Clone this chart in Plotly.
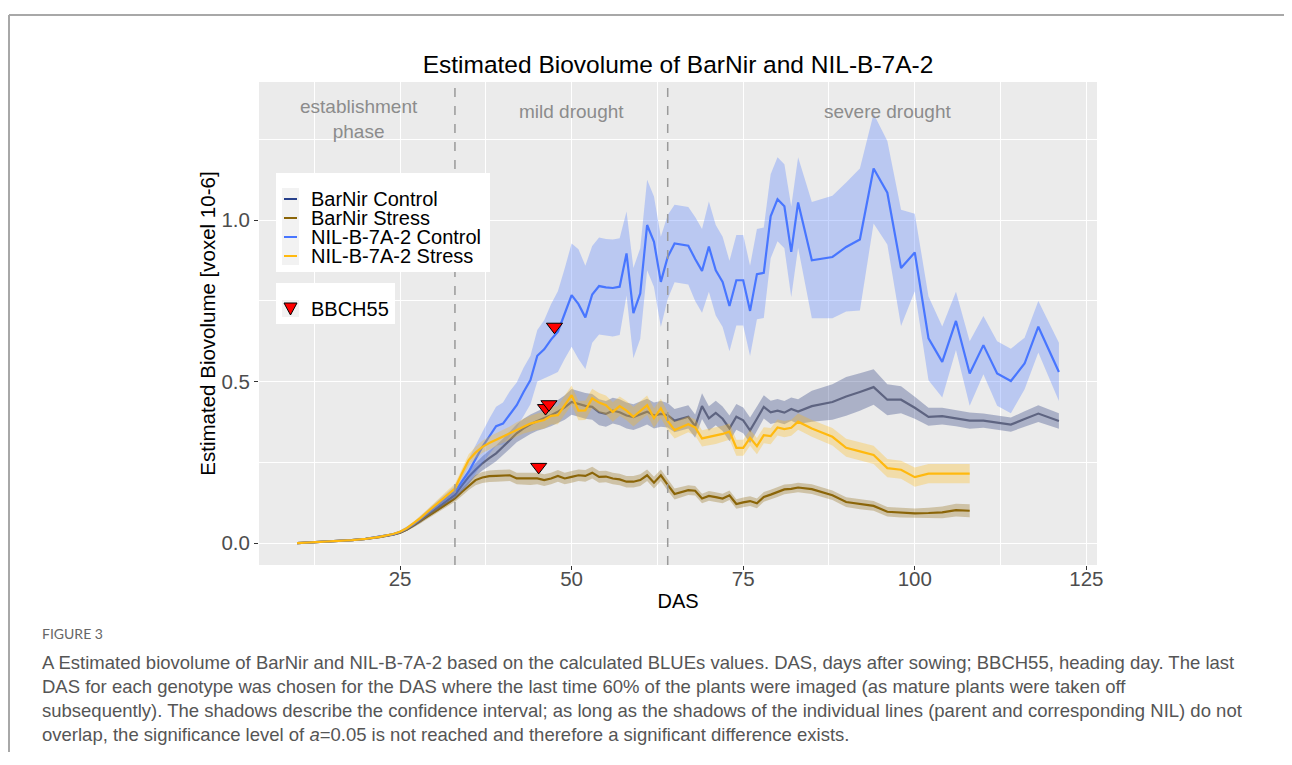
import numpy as np
import plotly.graph_objects as go

# ---------------- data ----------------
das_ctrl = [10, 12, 14, 16, 18, 20, 22, 24, 25, 26, 27, 28, 29, 30, 31, 32,
            33, 34, 35, 36, 37, 38, 39, 40, 41, 42, 43, 44, 45, 46, 47, 48, 49,
            50, 51, 52, 53, 54, 55, 56, 57, 58, 59, 60, 61, 62, 63, 64, 65,
            67, 68, 69, 70, 71, 72, 73, 74, 75, 76, 77, 78, 79, 80, 81, 82, 83,
            85, 88, 90, 92, 94, 96, 98, 100, 102, 104, 106, 108,
            110, 112, 114, 116, 118, 121]
das_stress = das_ctrl[:78]

nil_ctrl = [0.000, 0.002, 0.004, 0.006, 0.009, 0.013, 0.019, 0.027, 0.034, 0.045, 0.059, 0.075, 0.093, 0.110, 0.127, 0.143,
            0.159, 0.190, 0.221, 0.260, 0.298, 0.330, 0.362, 0.370, 0.400, 0.427, 0.468, 0.505, 0.580, 0.600, 0.630, 0.655, 0.711,
            0.768, 0.740, 0.699, 0.770, 0.796, 0.792, 0.790, 0.794, 0.897, 0.712, 0.773, 0.985, 0.933, 0.809, 0.886, 0.928,
            0.921, 0.880, 0.843, 0.918, 0.845, 0.809, 0.734, 0.814, 0.814, 0.719, 0.833, 0.837, 1.012, 1.065, 1.043, 0.902, 1.055,
            0.876, 0.886, 0.917, 0.940, 1.160, 1.085, 0.852, 0.900, 0.634, 0.561, 0.688, 0.525,
            0.613, 0.525, 0.502, 0.556, 0.670, 0.530]
nil_ctrl_ci = [0.001, 0.001, 0.001, 0.002, 0.002, 0.003, 0.003, 0.004, 0.005, 0.006, 0.007, 0.009, 0.011, 0.013, 0.015, 0.017,
               0.020, 0.030, 0.040, 0.045, 0.050, 0.055, 0.060, 0.065, 0.070, 0.070, 0.075, 0.075, 0.080, 0.090, 0.110, 0.125, 0.140,
               0.160, 0.170, 0.160, 0.150, 0.150, 0.150, 0.150, 0.150, 0.130, 0.140, 0.140, 0.140, 0.140, 0.140, 0.130, 0.120,
               0.120, 0.130, 0.130, 0.140, 0.140, 0.140, 0.140, 0.140, 0.140, 0.140, 0.140, 0.140, 0.130, 0.130, 0.130, 0.140, 0.140,
               0.180, 0.190, 0.200, 0.220, 0.170, 0.160, 0.180, 0.120, 0.130, 0.110, 0.090, 0.100,
               0.090, 0.100, 0.100, 0.080, 0.080, 0.090]

bn_ctrl = [0.000, 0.002, 0.004, 0.006, 0.009, 0.013, 0.019, 0.027, 0.033, 0.043, 0.056, 0.070, 0.087, 0.103, 0.118, 0.134,
           0.149, 0.178, 0.205, 0.227, 0.247, 0.263, 0.278, 0.298, 0.319, 0.340, 0.355, 0.368, 0.378, 0.386, 0.396, 0.407, 0.420,
           0.437, 0.430, 0.425, 0.422, 0.405, 0.400, 0.410, 0.405, 0.395, 0.390, 0.398, 0.407, 0.395, 0.400, 0.396, 0.379,
           0.391, 0.362, 0.424, 0.386, 0.403, 0.385, 0.355, 0.391, 0.380, 0.349, 0.385, 0.422, 0.405, 0.410, 0.404, 0.415, 0.407,
           0.424, 0.437, 0.454, 0.468, 0.483, 0.444, 0.444, 0.419, 0.391, 0.393, 0.387, 0.379,
           0.379, 0.373, 0.367, 0.384, 0.401, 0.378]
bn_ctrl_ci = [0.001, 0.001, 0.001, 0.001, 0.002, 0.002, 0.003, 0.003, 0.004, 0.005, 0.006, 0.007, 0.008, 0.010, 0.012, 0.013,
              0.015, 0.017, 0.020, 0.020, 0.022, 0.024, 0.025, 0.025, 0.027, 0.028, 0.030, 0.030, 0.030, 0.032, 0.034, 0.036, 0.038,
              0.040, 0.040, 0.040, 0.040, 0.040, 0.040, 0.040, 0.040, 0.040, 0.040, 0.040, 0.040, 0.040, 0.040, 0.038, 0.036,
              0.036, 0.036, 0.040, 0.038, 0.038, 0.038, 0.040, 0.040, 0.040, 0.040, 0.038, 0.036, 0.036, 0.036, 0.036, 0.036, 0.038,
              0.048, 0.055, 0.060, 0.058, 0.055, 0.048, 0.042, 0.034, 0.028, 0.026, 0.025, 0.025,
              0.022, 0.022, 0.022, 0.024, 0.026, 0.024]

nil_st = [0.000, 0.002, 0.004, 0.006, 0.009, 0.013, 0.019, 0.028, 0.035, 0.046, 0.061, 0.078, 0.097, 0.115, 0.134, 0.152,
          0.169, 0.215, 0.257, 0.280, 0.298, 0.310, 0.320, 0.330, 0.340, 0.352, 0.362, 0.370, 0.376, 0.381, 0.394, 0.396, 0.427,
          0.458, 0.410, 0.411, 0.448, 0.435, 0.427, 0.406, 0.424, 0.410, 0.391, 0.410, 0.427, 0.387, 0.417, 0.378, 0.350,
          0.368, 0.358, 0.324, 0.328, 0.332, 0.338, 0.345, 0.295, 0.295, 0.326, 0.300, 0.334, 0.331, 0.358, 0.353, 0.357, 0.376,
          0.355, 0.329, 0.295, 0.284, 0.273, 0.232, 0.227, 0.204, 0.215, 0.215, 0.216, 0.215]
nil_st_ci = [0.001, 0.001, 0.001, 0.001, 0.002, 0.002, 0.003, 0.003, 0.004, 0.005, 0.006, 0.007, 0.008, 0.010, 0.012, 0.013,
             0.015, 0.017, 0.018, 0.018, 0.019, 0.020, 0.020, 0.020, 0.021, 0.022, 0.023, 0.024, 0.025, 0.026, 0.027, 0.028, 0.030,
             0.030, 0.030, 0.030, 0.030, 0.030, 0.030, 0.030, 0.030, 0.030, 0.030, 0.030, 0.030, 0.030, 0.030, 0.028, 0.026,
             0.025, 0.025, 0.025, 0.025, 0.025, 0.025, 0.025, 0.025, 0.025, 0.025, 0.025, 0.025, 0.025, 0.025, 0.025, 0.025, 0.025,
             0.026, 0.027, 0.028, 0.028, 0.028, 0.028, 0.028, 0.030, 0.030, 0.030, 0.030, 0.030]

bn_st = [0.000, 0.002, 0.004, 0.006, 0.009, 0.013, 0.018, 0.026, 0.032, 0.042, 0.055, 0.068, 0.082, 0.096, 0.110, 0.124,
         0.138, 0.158, 0.178, 0.195, 0.203, 0.207, 0.208, 0.210, 0.210, 0.200, 0.200, 0.198, 0.200, 0.195, 0.200, 0.208, 0.200,
         0.205, 0.210, 0.208, 0.218, 0.205, 0.206, 0.200, 0.197, 0.190, 0.190, 0.195, 0.210, 0.187, 0.210, 0.180, 0.152,
         0.164, 0.162, 0.138, 0.146, 0.142, 0.138, 0.148, 0.121, 0.126, 0.130, 0.123, 0.143, 0.150, 0.158, 0.166, 0.168, 0.172,
         0.167, 0.148, 0.127, 0.120, 0.115, 0.097, 0.094, 0.092, 0.093, 0.095, 0.102, 0.100]
bn_st_ci = [0.001, 0.001, 0.001, 0.001, 0.002, 0.002, 0.003, 0.003, 0.004, 0.005, 0.006, 0.007, 0.008, 0.008, 0.009, 0.009,
            0.010, 0.012, 0.014, 0.016, 0.017, 0.018, 0.018, 0.018, 0.018, 0.018, 0.018, 0.018, 0.018, 0.018, 0.018, 0.018, 0.018,
            0.018, 0.018, 0.018, 0.018, 0.018, 0.018, 0.018, 0.018, 0.018, 0.018, 0.018, 0.018, 0.018, 0.018, 0.018, 0.017,
            0.015, 0.015, 0.015, 0.015, 0.015, 0.015, 0.015, 0.015, 0.015, 0.015, 0.015, 0.015, 0.015, 0.015, 0.015, 0.015, 0.015,
            0.015, 0.015, 0.015, 0.015, 0.015, 0.015, 0.015, 0.015, 0.016, 0.018, 0.020, 0.020]

bbch_das = [46.2, 45.2, 47.5, 46.7]
bbch_val = [0.418, 0.236, 0.670, 0.430]

series_names = ["BarNir Control", "BarNir Stress", "NIL-B-7A-2 Control", "NIL-B-7A-2 Stress"]
legend_colors = ["#27408B", "#8B6508", "#4876FF", "#FFB90F"]
phase_lines = [33, 64]
phase_labels = ["establishment<br>phase", "mild drought", "severe drought"]
phase_label_x = [19, 50, 96]
phase_label_y = [1.313, 1.337, 1.337]
x_ticks = [25, 50, 75, 100, 125]
y_ticks = [0.0, 0.5, 1.0]

title_text = "Estimated Biovolume of BarNir and NIL-B-7A-2"
caption_head = "FIGURE 3"
caption_lines = [
    "A Estimated biovolume of BarNir and NIL-B-7A-2 based on the calculated BLUEs values. DAS, days after sowing; BBCH55, heading day. The last",
    "DAS for each genotype was chosen for the DAS where the last time 60% of the plants were imaged (as mature plants were taken off",
    "subsequently). The shadows describe the confidence interval; as long as the shadows of the individual lines (parent and corresponding NIL) do not",
    "overlap, the significance level of <i>a</i>=0.05 is not reached and therefore a significant difference exists.",
]

for a in (nil_ctrl, nil_ctrl_ci, bn_ctrl, bn_ctrl_ci):
    assert len(a) == len(das_ctrl), len(a)
for a in (nil_st, nil_st_ci, bn_st, bn_st_ci):
    assert len(a) == len(das_stress), len(a)

# ---------------- layout geometry (screen pixels; page body has an 8px margin) ----------------
FONT = "Liberation Sans, Arial, sans-serif"
OFF = 8
W, H = 1292 - OFF, 765 - OFF
PLOT_L, PLOT_T, PLOT_R, PLOT_B = 259, 82, 1097, 565   # screen coords of plot panel
L, T = PLOT_L - OFF, PLOT_T - OFF
PW, PH = PLOT_R - PLOT_L, PLOT_B - PLOT_T
R, B = W - L - PW, H - T - PH


def px(sx):
    return (sx - PLOT_L) / PW


def py(sy):
    return (PLOT_B - sy) / PH


series = [
    # x, mean, ci, line colour, ribbon colour
    (das_ctrl, bn_ctrl, bn_ctrl_ci, "#5e6481", "rgba(44,61,129,0.33)"),
    (das_stress, bn_st, bn_st_ci, "#8B6508", "rgba(139,101,8,0.30)"),
    (das_ctrl, nil_ctrl, nil_ctrl_ci, "#4876FF", "rgba(72,118,255,0.30)"),
    (das_stress, nil_st, nil_st_ci, "#FFB90F", "rgba(255,185,15,0.30)"),
]

fig = go.Figure()

for name, (x, m, ci, lc, rc) in zip(series_names, series):
    x = np.array(x, dtype=float)
    m = np.array(m)
    ci = np.array(ci)
    up, lo = m + ci, m - ci
    fig.add_trace(go.Scatter(
        x=np.concatenate([x, x[::-1]]), y=np.concatenate([up, lo[::-1]]),
        fill="toself", fillcolor=rc, line=dict(width=0), mode="lines",
        hoverinfo="skip", showlegend=False))
    fig.add_trace(go.Scatter(
        x=x, y=m, mode="lines", line=dict(color=lc, width=2.2),
        name=name, showlegend=False))

fig.add_trace(go.Scatter(
    x=bbch_das, y=bbch_val, mode="markers", name="BBCH55", showlegend=False,
    marker=dict(symbol="triangle-down", size=14, color="#FF0000",
                line=dict(color="#000000", width=1))))

shapes = []
for xv in phase_lines:
    shapes.append(dict(type="line", xref="x", yref="paper", x0=xv, x1=xv, y0=0, y1=1,
                       line=dict(color="#9a9a9a", width=1.5, dash="dash"), layer="above"))
# figure frame (top and left rules)
shapes.append(dict(type="line", xref="paper", yref="paper",
                   x0=px(9), x1=px(1300), y0=py(15), y1=py(15),
                   line=dict(color="#a8a8a8", width=2)))
shapes.append(dict(type="line", xref="paper", yref="paper",
                   x0=px(9), x1=px(9), y0=py(15), y1=py(752),
                   line=dict(color="#a8a8a8", width=2)))

annotations = []

# ---- legend box 1 (series) ----
shapes.append(dict(type="rect", xref="paper", yref="paper", x0=px(276), x1=px(490),
                   y0=py(173), y1=py(272), fillcolor="white", line=dict(width=0), layer="above"))
shapes.append(dict(type="rect", xref="paper", yref="paper", x0=px(282), x1=px(299),
                   y0=py(188), y1=py(265), fillcolor="#F2F2F2", line=dict(width=0), layer="above"))
leg_rows = [199, 218, 237, 256]
for col, ry in zip(legend_colors, leg_rows):
    shapes.append(dict(type="line", xref="paper", yref="paper", x0=px(284), x1=px(297),
                       y0=py(ry), y1=py(ry), line=dict(color=col, width=2), layer="above"))
# one text block, 19px line pitch, 20px glyphs
leg_text = "<br>".join("<span style='font-size:20px'>{}</span>".format(n) for n in series_names)
annotations.append(dict(text=leg_text, x=px(309), y=py(sum(leg_rows) / 4), xref="paper", yref="paper",
                        showarrow=False, xanchor="left", yanchor="middle", align="left",
                        font=dict(family=FONT, size=19 / 1.3, color="#000000")))

# ---- legend box 2 (BBCH55) ----
shapes.append(dict(type="rect", xref="paper", yref="paper", x0=px(276), x1=px(395),
                   y0=py(283), y1=py(324), fillcolor="white", line=dict(width=0), layer="above"))
shapes.append(dict(type="rect", xref="paper", yref="paper", x0=px(282), x1=px(299),
                   y0=py(300), y1=py(317), fillcolor="#F2F2F2", line=dict(width=0), layer="above"))
tri = "M {} {} L {} {} L {} {} Z".format(px(284), py(303), px(297), py(303), px(290.5), py(315))
shapes.append(dict(type="path", xref="paper", yref="paper", path=tri, fillcolor="#FF0000",
                   line=dict(color="#000000", width=1), layer="above"))
annotations.append(dict(text="BBCH55", x=px(309), y=py(309), xref="paper", yref="paper",
                        showarrow=False, xanchor="left", yanchor="middle",
                        font=dict(family=FONT, size=20, color="#000000")))

for lab, xv, yv in zip(phase_labels, phase_label_x, phase_label_y):
    annotations.append(dict(text=lab, x=xv, y=yv, xref="x", yref="y", showarrow=False,
                            font=dict(family=FONT, size=19, color="#8c8c8c"),
                            xanchor="center", yanchor="middle"))

annotations.append(dict(text=caption_head, x=px(40), y=py(633),
                        xref="paper", yref="paper", showarrow=False, xanchor="left", yanchor="middle",
                        font=dict(family="Lato, Noto Sans, sans-serif", size=14, color="#666666")))
for i, line in enumerate(caption_lines):
    annotations.append(dict(text=line, x=px(40), y=py(662 + 24 * i),
                            xref="paper", yref="paper", showarrow=False, xanchor="left", yanchor="middle",
                            font=dict(family=FONT, size=18.5, color="#555555")))

fig.update_layout(
    width=W, height=H,
    margin=dict(l=L, r=R, t=T, b=B, autoexpand=False),
    paper_bgcolor="white", plot_bgcolor="#EBEBEB",
    font=dict(family=FONT, color="#000000"),
    showlegend=False,
    title=dict(text=title_text, x=px(678), xref="paper", xanchor="center",
               y=1 - (64 - OFF) / H, yref="container", yanchor="middle",
               font=dict(family=FONT, size=24.5, color="#000000")),
    xaxis=dict(range=[4.45, 126.55], tickvals=x_ticks, showgrid=True, gridcolor="white",
               gridwidth=1.3, zeroline=False, showline=False,
               ticks="outside", ticklen=4, tickcolor="#333333", tickwidth=1,
               ticklabelstandoff=-9,
               tickfont=dict(family=FONT, size=20.5, color="#4D4D4D"),
               minor=dict(tick0=12.5, dtick=25, showgrid=True, gridcolor="white", gridwidth=0.6, ticks=""),
               title=dict(text="DAS", standoff=5, font=dict(family=FONT, size=20, color="#000000"))),
    yaxis=dict(range=[-0.068, 1.428], tickvals=y_ticks, tickformat=".1f", showgrid=True,
               gridcolor="white", gridwidth=1.3, zeroline=False, showline=False,
               ticks="outside", ticklen=4, tickcolor="#333333", tickwidth=1,
               tickfont=dict(family=FONT, size=20.5, color="#4D4D4D"),
               minor=dict(tick0=0.25, dtick=0.5, showgrid=True, gridcolor="white", gridwidth=0.6, ticks=""),
               title=dict(text="Estimated Biovolume [voxel 10-6]", standoff=0,
                          font=dict(family=FONT, size=20.5, color="#000000"))),
    shapes=shapes,
    annotations=annotations,
    hovermode=False,
)

fig.write_html("out.html")
